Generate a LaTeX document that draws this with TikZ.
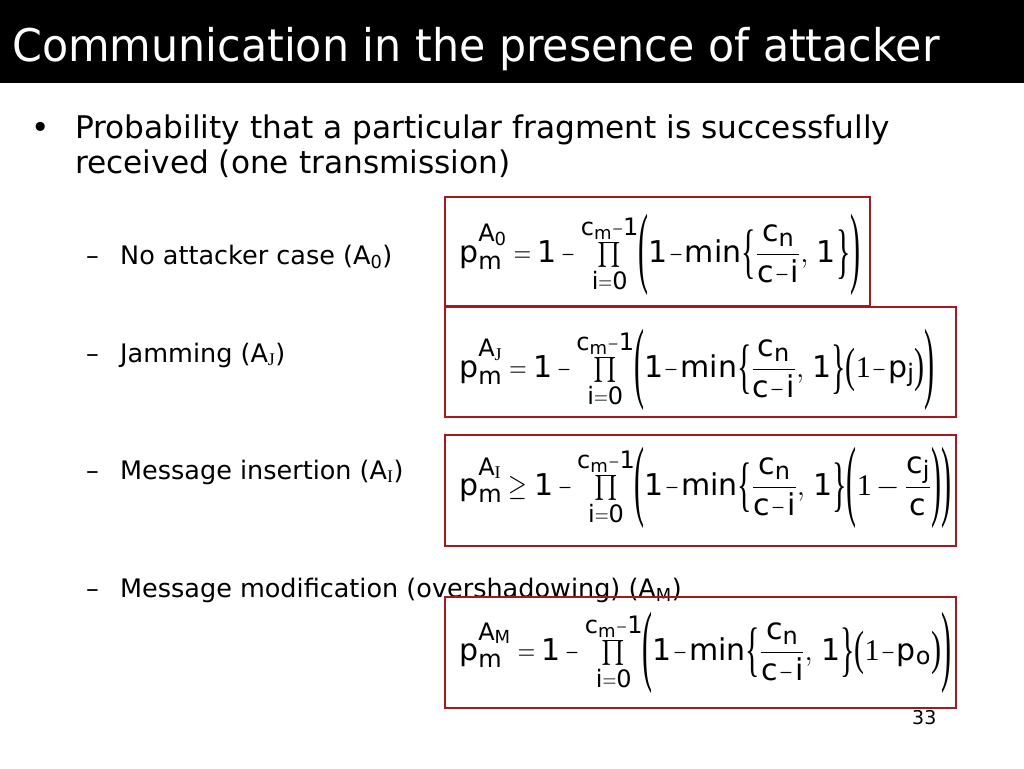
\RequirePackage{fix-cm}
\documentclass[tikz,border=0pt]{standalone}
\usepackage{amsmath}
\usepackage{fontspec}
\setmainfont{DejaVu Sans}
\newfontfamily\titlefont[FakeStretch=0.95]{DejaVu Sans}
\newfontfamily\seriffont{Liberation Serif}
\usetikzlibrary{positioning}
\DeclareMathSizes{30}{30}{24}{18}
\definecolor{boxred}{RGB}{168,22,30}
% narrow signs and stretched delimiters
\newcommand{\mi}{\mathbin{\scalebox{0.6}[1]{$-$}}}
\newcommand{\mt}{\mskip1mu\mathord{\scalebox{0.6}[1]{$-$}}\mskip1mu}
\newcommand{\mis}{\mathbin{\scalebox{0.6}[1]{$\scriptstyle-$}}}
\newcommand{\eq}{\mathrel{\scalebox{0.8}[1]{$=$}}}
\newcommand{\eqs}{\mathrel{\scalebox{0.8}[1]{$\scriptstyle=$}}}
\newcommand{\geqn}{\mathrel{\scalebox{0.8}[1]{$\geq$}}}
\newcommand{\pL}[1]{\mathopen{\vcenter{\hbox{\scalebox{1}[#1]{\seriffont(}}}}}
\newcommand{\pR}[1]{\mathclose{\vcenter{\hbox{\scalebox{1}[#1]{\seriffont)}}}}}
\newcommand{\bL}{\mathopen{\vcenter{\hbox{\scalebox{1}[2]{\seriffont\{}}}}}
\newcommand{\bR}{\mathclose{\vcenter{\hbox{\scalebox{1}[2]{\seriffont\}}}}}}
\newcommand{\fmath}{\fontsize{30}{36}\selectfont\thickmuskip=4mu\medmuskip=3mu\relax}
\newcommand{\fprod}{\prod\limits_{\mathrm{i}\eqs\mathrm{0}}^{\mathrm{c}_{\mathrm{m}}\mis\mathrm{1}\rule[-3pt]{0pt}{1pt}}}
\newcommand{\fmin}{\mathrm{1}\mt\mathrm{min}\bL\dfrac{\mathrm{c}_{\mathrm{n}}}{\mathrm{c}\mt\mathrm{i}},\mskip2mu\mathrm{1}\bR}
\newcommand{\fpm}[1]{\mathrm{p}_{\mathrm{m}}^{\mathrm{A}_{#1}}}
\tikzset{
  formbox/.style={draw=boxred, line width=2pt},
  formula/.style={anchor=base west, inner sep=0pt, font=\fmath},
  subitem/.style={anchor=base west, inner sep=0pt, font=\fontsize{25.5}{31}\selectfont},
  mainitem/.style={anchor=base west, inner sep=0pt, font=\fontsize{31.2}{37}\selectfont}
}
\begin{document}
\begin{tikzpicture}[x=1pt,y=-1pt]
	\useasboundingbox (0,0) rectangle (1024,768);
	% page
	\fill[white] (0,0) rectangle (1024,768);
	\fill[black] (0,0) rectangle (1024,83);
	\node[anchor=base west, inner sep=0pt, text=white, font=\titlefont\fontsize{45}{50}\selectfont] (title) at (12,62) {Communication in the presence of attacker};

	% Bullet
	\node[mainitem] (dot) at (31,138) {\textbullet};
	\node[mainitem] (item) at (75,138) {Probability that a particular fragment is successfully};
	\node[mainitem] (item2) at (75,173) {received (one transmission)};

	% Cases
	\node[subitem] (d0) at (86,264) {--};
	\node[subitem] (case0) at (120,264) {No attacker case (A\textsubscript{0})};
	\node[subitem] (d1) at (86,362) {--};
	\node[subitem] (case1) at (120,362) {Jamming (A\textsubscript{\seriffont J})};
	\node[subitem] (d2) at (86,479) {--};
	\node[subitem] (case2) at (120,479) {Message insertion (A\textsubscript{\seriffont I})};
	\node[subitem] (d3) at (86,597) {--};
	\node[subitem] (case3) at (120,597) {Message modification (overshadowing) (A\textsubscript{M})};

	% Formulas
	\draw[formbox] (445,197) rectangle (870,306);
	\node[formula] (f0) at (459,262) {$\fpm{\mathrm{0}} \eq \mathrm{1}\mi\fprod\pL{3}\fmin\pR{3}$};
	\draw[formbox] (445,307) rectangle (956,417);
	\node[formula] (f1) at (459,377) {$\fpm{\text{\seriffont J}} \eq \mathrm{1}\mi\fprod\pL{3}\fmin\pL{1.6}\text{\seriffont 1}\mt\mathrm{p}_{\mathrm{j}}\pR{1.6}\pR{3}$};
	\draw[formbox] (445,435) rectangle (956,546);
	\node[formula] (f2) at (459,495) {$\fpm{\text{\seriffont I}} \geqn \mathrm{1}\mi\fprod\pL{3}\fmin\pL{3}\text{\seriffont 1}-\dfrac{\mathrm{c}_{\mathrm{j}}}{\mathrm{c}}\pR{3}\pR{3}$};
	\draw[formbox] (445,597) rectangle (956,708);
	\node[formula] (f3) at (459,660) {$\fpm{\mathrm{M}} \eq \mathrm{1}\mi\fprod\pL{3}\fmin\pL{1.6}\text{\seriffont 1}\mt\mathrm{p}_{\mathrm{o}}\pR{1.6}\pR{3}$};

	% page number
	\node[anchor=base west, inner sep=0pt, font=\fontsize{19}{22}\selectfont] (page) at (912,724) {33};
\end{tikzpicture}
\end{document}
